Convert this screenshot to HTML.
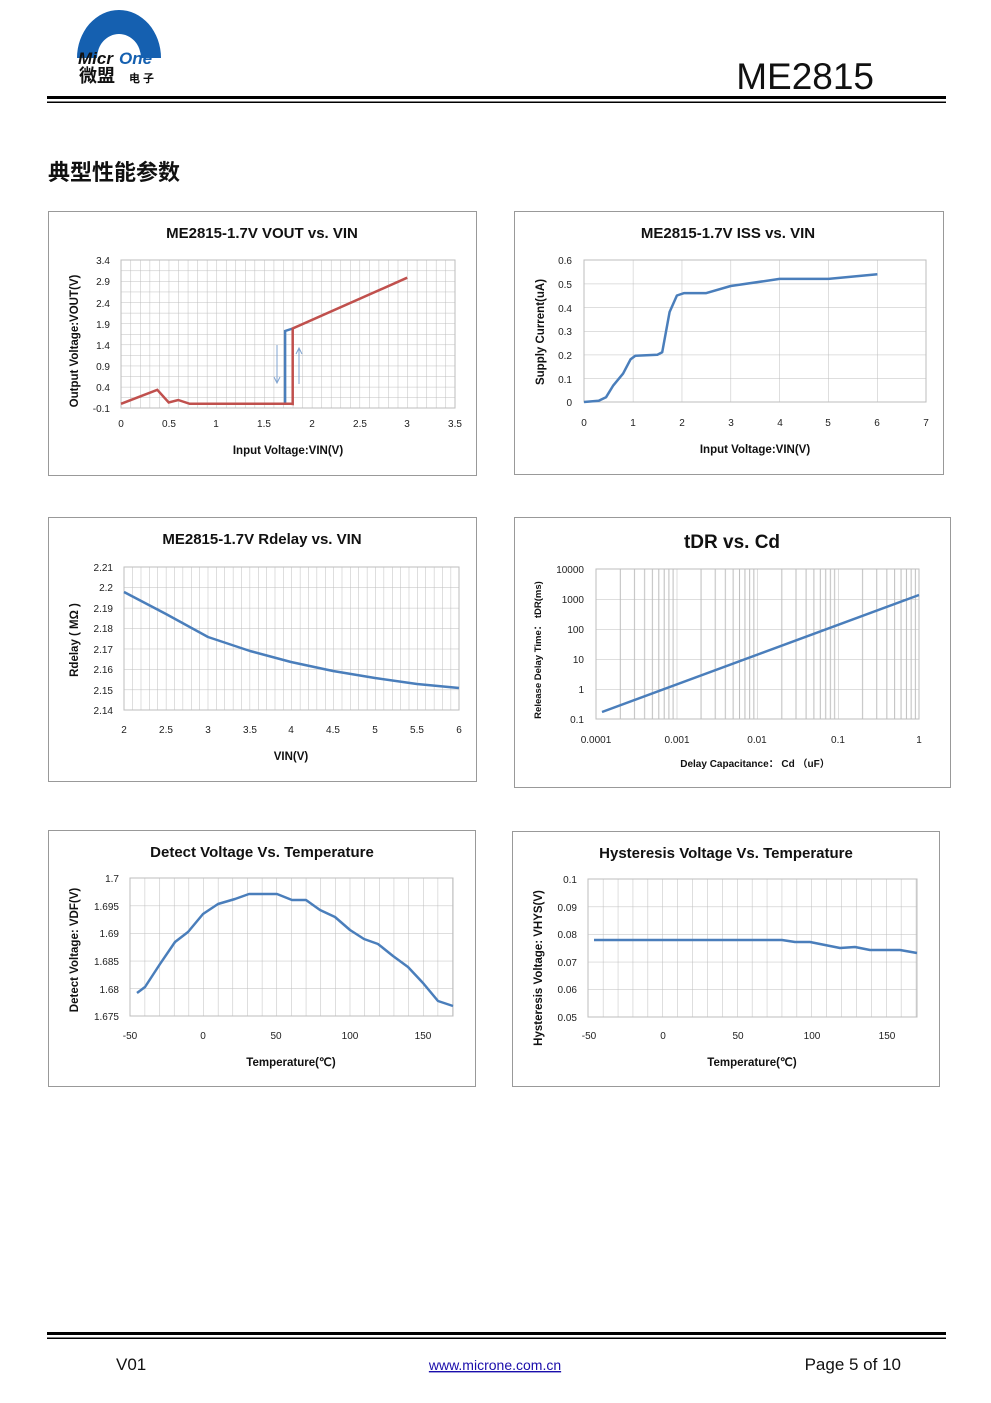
<!DOCTYPE html>
<html><head><meta charset="utf-8"><style>
html,body{margin:0;padding:0;background:#fff;}
svg{display:block}
.t{font-family:"Liberation Sans","Noto Sans CJK SC",sans-serif;}
.tk{font-family:"Liberation Sans",sans-serif;font-size:10px;fill:#222;}
.ct{font-family:"Liberation Sans",sans-serif;font-size:15px;font-weight:bold;fill:#111;}
.al{font-family:"Liberation Sans",sans-serif;font-size:11.5px;font-weight:bold;fill:#111;}
</style></head><body>
<svg width="991" height="1403" viewBox="0 0 991 1403" xmlns="http://www.w3.org/2000/svg">
<defs>
<pattern id="g1" x="121" y="260" width="9.543" height="10.571" patternUnits="userSpaceOnUse"><path d="M0 0V10.571M0 0H9.543" stroke="#bdbdbd" stroke-width="1" fill="none"/></pattern>
<pattern id="g2" x="584" y="260" width="48.86" height="23.67" patternUnits="userSpaceOnUse"><path d="M0 0V23.67M0 0H48.86" stroke="#bdbdbd" stroke-width="1" fill="none"/></pattern>
<pattern id="g3" x="124" y="567" width="8.375" height="20.43" patternUnits="userSpaceOnUse"><path d="M0 0V20.43M0 0H8.375" stroke="#bdbdbd" stroke-width="1" fill="none"/></pattern>
<pattern id="g4" x="596" y="569" width="80.75" height="30" patternUnits="userSpaceOnUse"><path d="M0 0V30M24.3 0V30M38.5 0V30M48.6 0V30M56.4 0V30M62.8 0V30M68.2 0V30M72.9 0V30M77.1 0V30M0 0H80.75" stroke="#bdbdbd" stroke-width="1" fill="none"/></pattern>
<pattern id="g5" x="130" y="878" width="14.65" height="27.6" patternUnits="userSpaceOnUse"><path d="M0 0V27.6M0 0H14.65" stroke="#bdbdbd" stroke-width="1" fill="none"/></pattern>
<pattern id="g6" x="588" y="879" width="14.9" height="27.6" patternUnits="userSpaceOnUse"><path d="M0 0V27.6M0 0H14.9" stroke="#bdbdbd" stroke-width="1" fill="none"/></pattern>
</defs>

<!-- header -->
<path d="M77 58 A42 48 0 0 1 161 58 L141 58 A22 24 0 0 0 97 58 Z" fill="#1560b0"/>
<text x="78" y="64" class="t" font-size="17" font-weight="bold" font-style="italic" fill="#111">Micr</text>
<text x="119" y="64" class="t" font-size="17" font-weight="bold" font-style="italic" fill="#1560b0">One</text>
<text x="79" y="82" class="t" font-size="18" font-weight="bold" fill="#111">微盟</text>
<text x="129" y="82" class="t" font-size="11" font-weight="bold" fill="#111">电 子</text>
<text x="874" y="89" text-anchor="end" class="t" font-size="37" fill="#111">ME2815</text>
<rect x="47" y="96" width="899" height="3" fill="#000"/>
<rect x="47" y="101.5" width="899" height="1.5" fill="#000"/>
<text x="48" y="180" class="t" font-size="22" font-weight="bold" fill="#111">典型性能参数</text>

<!-- chart 1 -->
<rect x="48.5" y="211.5" width="428" height="264" fill="#fff" stroke="#999"/>
<text x="262" y="238" text-anchor="middle" class="ct">ME2815-1.7V VOUT vs. VIN</text>
<rect x="121" y="260" width="334" height="148" fill="url(#g1)"/>
<rect x="121" y="260" width="334" height="148" fill="none" stroke="#bdbdbd"/>
<g class="tk" text-anchor="end">
<text x="110" y="264">3.4</text><text x="110" y="285">2.9</text><text x="110" y="307">2.4</text><text x="110" y="328">1.9</text><text x="110" y="349">1.4</text><text x="110" y="370">0.9</text><text x="110" y="391">0.4</text><text x="110" y="412">-0.1</text>
</g>
<g class="tk" text-anchor="middle">
<text x="121" y="427">0</text><text x="169" y="427">0.5</text><text x="216" y="427">1</text><text x="264" y="427">1.5</text><text x="312" y="427">2</text><text x="360" y="427">2.5</text><text x="407" y="427">3</text><text x="455" y="427">3.5</text>
</g>
<text x="288" y="454" text-anchor="middle" class="al">Input Voltage:VIN(V)</text>
<text transform="translate(78,341) rotate(-90)" text-anchor="middle" class="al">Output Voltage:VOUT(V)</text>
<polyline points="285.1,404 285.1,331 292.7,328.5" fill="none" stroke="#4a7ebb" stroke-width="2.5"/>
<polyline points="121,403.8 157.3,389.8 168.7,402.5 178.2,400 189.7,403.8 290.8,403.8 292.7,404 292.7,328.5 407.2,277.7" fill="none" stroke="#c0504d" stroke-width="2.5"/>
<path d="M277 345V383M274 377L277 383L280 377" stroke="#7fa3d0" fill="none"/>
<path d="M299 384V348M296 354L299 348L302 354" stroke="#7fa3d0" fill="none"/>

<!-- chart 2 -->
<rect x="514.5" y="211.5" width="429" height="263" fill="#fff" stroke="#999"/>
<text x="728" y="238" text-anchor="middle" class="ct">ME2815-1.7V  ISS vs. VIN</text>
<rect x="584" y="260" width="342" height="142" fill="url(#g2)"/>
<rect x="584" y="260" width="342" height="142" fill="none" stroke="#bdbdbd"/>
<g class="tk" text-anchor="end">
<text x="572" y="264">0.6</text><text x="572" y="288">0.5</text><text x="572" y="312">0.4</text><text x="572" y="335">0.3</text><text x="572" y="359">0.2</text><text x="572" y="383">0.1</text><text x="572" y="406">0</text>
</g>
<g class="tk" text-anchor="middle">
<text x="584" y="426">0</text><text x="633" y="426">1</text><text x="682" y="426">2</text><text x="731" y="426">3</text><text x="780" y="426">4</text><text x="828" y="426">5</text><text x="877" y="426">6</text><text x="926" y="426">7</text>
</g>
<text x="755" y="453" text-anchor="middle" class="al">Input Voltage:VIN(V)</text>
<text transform="translate(544,332) rotate(-90)" text-anchor="middle" class="al">Supply Current(uA)</text>
<polyline points="584,402 598.7,400.8 606,397.3 613.3,385.4 623.1,373.6 630.5,359.4 635.3,355.8 657.4,354.7 662.2,352.3 669.6,312 676.9,295.5 684.2,293.1 706.3,293.1 730.7,286 779.6,278.9 828.5,278.9 877.4,274.2" fill="none" stroke="#4a7ebb" stroke-width="2.5" stroke-linejoin="round"/>

<!-- chart 3 -->
<rect x="48.5" y="517.5" width="428" height="264" fill="#fff" stroke="#999"/>
<text x="262" y="544" text-anchor="middle" class="ct">ME2815-1.7V  Rdelay  vs. VIN</text>
<rect x="124" y="567" width="335" height="143" fill="url(#g3)"/>
<rect x="124" y="567" width="335" height="143" fill="none" stroke="#bdbdbd"/>
<g class="tk" text-anchor="end">
<text x="113" y="571">2.21</text><text x="113" y="591">2.2</text><text x="113" y="612">2.19</text><text x="113" y="632">2.18</text><text x="113" y="653">2.17</text><text x="113" y="673">2.16</text><text x="113" y="694">2.15</text><text x="113" y="714">2.14</text>
</g>
<g class="tk" text-anchor="middle">
<text x="124" y="733">2</text><text x="166" y="733">2.5</text><text x="208" y="733">3</text><text x="250" y="733">3.5</text><text x="291" y="733">4</text><text x="333" y="733">4.5</text><text x="375" y="733">5</text><text x="417" y="733">5.5</text><text x="459" y="733">6</text>
</g>
<text x="291" y="760" text-anchor="middle" class="al">VIN(V)</text>
<text transform="translate(78,640) rotate(-90)" text-anchor="middle" class="al">Rdelay ( MΩ )</text>
<polyline points="124,592 166,614 208,637 250,651 291,662 333,671 375,678 417,684 459,688" fill="none" stroke="#4a7ebb" stroke-width="2.5" stroke-linejoin="round"/>

<!-- chart 4 -->
<rect x="514.5" y="517.5" width="436" height="270" fill="#fff" stroke="#999"/>
<text x="732" y="548" text-anchor="middle" class="t" font-size="19" font-weight="bold" fill="#111">tDR vs. Cd</text>
<rect x="596" y="569" width="323" height="150" fill="url(#g4)"/>
<rect x="596" y="569" width="323" height="150" fill="none" stroke="#bdbdbd"/>
<g class="tk" text-anchor="end">
<text x="584" y="573">10000</text><text x="584" y="603">1000</text><text x="584" y="633">100</text><text x="584" y="663">10</text><text x="584" y="693">1</text><text x="584" y="723">0.1</text>
</g>
<g class="tk" text-anchor="middle">
<text x="596" y="743">0.0001</text><text x="677" y="743">0.001</text><text x="757" y="743">0.01</text><text x="838" y="743">0.1</text><text x="919" y="743">1</text>
</g>
<text x="755" y="767" text-anchor="middle" class="t" font-size="10" font-weight="bold" fill="#111">Delay Capacitance：  Cd （uF）</text>
<text transform="translate(541,650) rotate(-90)" text-anchor="middle" class="t" font-size="9.5" font-weight="bold" fill="#111">Release Delay Time：  tDR(ms)</text>
<line x1="602" y1="712" x2="919" y2="595" stroke="#4a7ebb" stroke-width="2.5"/>

<!-- chart 5 -->
<rect x="48.5" y="830.5" width="427" height="256" fill="#fff" stroke="#999"/>
<text x="262" y="857" text-anchor="middle" class="ct">Detect Voltage Vs. Temperature</text>
<rect x="130" y="878" width="323" height="138" fill="url(#g5)"/>
<rect x="130" y="878" width="323" height="138" fill="none" stroke="#bdbdbd"/>
<g class="tk" text-anchor="end">
<text x="119" y="882">1.7</text><text x="119" y="910">1.695</text><text x="119" y="937">1.69</text><text x="119" y="965">1.685</text><text x="119" y="993">1.68</text><text x="119" y="1020">1.675</text>
</g>
<g class="tk" text-anchor="middle">
<text x="130" y="1039">-50</text><text x="203" y="1039">0</text><text x="276" y="1039">50</text><text x="350" y="1039">100</text><text x="423" y="1039">150</text>
</g>
<text x="291" y="1066" text-anchor="middle" class="al">Temperature(℃)</text>
<text transform="translate(78,950) rotate(-90)" text-anchor="middle" class="al">Detect Voltage: VDF(V)</text>
<polyline points="137,993 145,987 160,964 175,942 188,932 203,914 218,904 235,899 249,894 263,894 277,894 292,900 306,900 320,910 335,917 350,930 364,939 378,944 393,956 408,967 423,983 438,1001 453,1006" fill="none" stroke="#4a7ebb" stroke-width="2.5" stroke-linejoin="round"/>

<!-- chart 6 -->
<rect x="512.5" y="831.5" width="427" height="255" fill="#fff" stroke="#999"/>
<text x="726" y="858" text-anchor="middle" class="ct">Hysteresis Voltage Vs. Temperature</text>
<rect x="588" y="879" width="329" height="138" fill="url(#g6)"/>
<rect x="588" y="879" width="329" height="138" fill="none" stroke="#bdbdbd"/>
<g class="tk" text-anchor="end">
<text x="577" y="883">0.1</text><text x="577" y="911">0.09</text><text x="577" y="938">0.08</text><text x="577" y="966">0.07</text><text x="577" y="993">0.06</text><text x="577" y="1021">0.05</text>
</g>
<g class="tk" text-anchor="middle">
<text x="589" y="1039">-50</text><text x="663" y="1039">0</text><text x="738" y="1039">50</text><text x="812" y="1039">100</text><text x="887" y="1039">150</text>
</g>
<text x="752" y="1066" text-anchor="middle" class="al">Temperature(℃)</text>
<text transform="translate(542,968) rotate(-90)" text-anchor="middle" class="al">Hysteresis  Voltage: VHYS(V)</text>
<polyline points="594,940 782,940 795,942 810,942 825,945 840,948 855,947 870,950 900,950 917,953" fill="none" stroke="#4a7ebb" stroke-width="2.5" stroke-linejoin="round"/>

<!-- footer -->
<rect x="47" y="1332" width="899" height="3" fill="#000"/>
<rect x="47" y="1337.5" width="899" height="1.5" fill="#000"/>
<text x="116" y="1370" class="t" font-size="17" fill="#111">V01</text>
<text x="495" y="1370" text-anchor="middle" class="t" font-size="14" fill="#1a0dab" text-decoration="underline">www.microne.com.cn</text>
<text x="901" y="1370" text-anchor="end" class="t" font-size="17" fill="#111">Page 5 of 10</text>
</svg>
</body></html>
